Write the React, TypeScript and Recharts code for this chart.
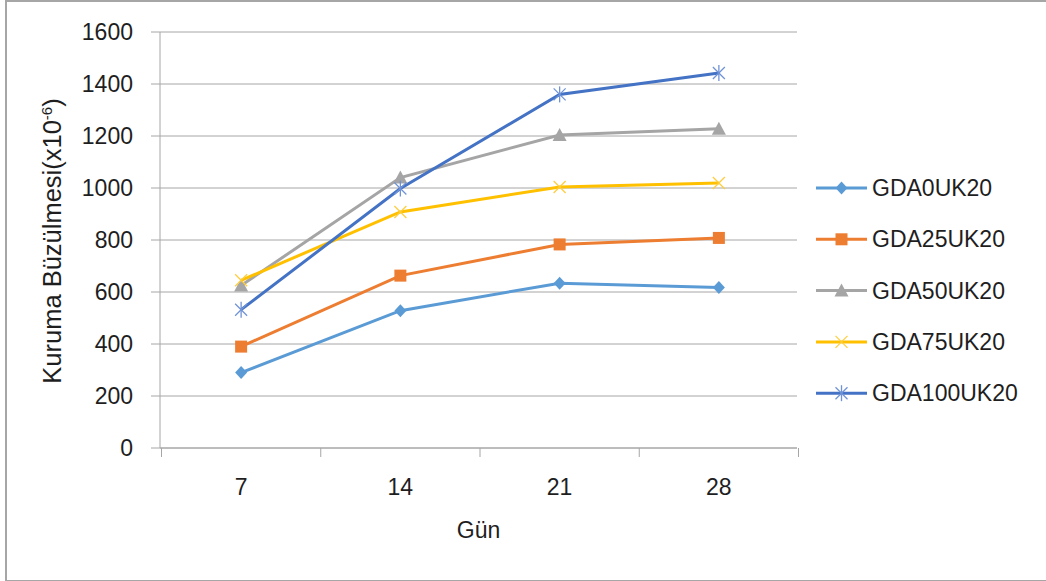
import { CartesianGrid, Line, LineChart, XAxis, YAxis } from "recharts";

const FONT = "'Liberation Sans', Arial, sans-serif";
const TEXT = "#1e1e1e";
const GRID = "#a6a6a6";

const DAYS = ["7", "14", "21", "28"];
const Y_TICKS = [0, 200, 400, 600, 800, 1000, 1200, 1400, 1600];

const GDA0UK20 = [290, 528, 634, 617];
const GDA25UK20 = [390, 663, 783, 808];
const GDA50UK20 = [625, 1040, 1204, 1228];
const GDA75UK20 = [645, 908, 1004, 1019];
const GDA100UK20 = [532, 998, 1360, 1442];

type Shape = "diamond" | "square" | "triangle" | "x" | "star";

const SERIES: { name: string; values: number[]; color: string; shape: Shape }[] = [
  { name: "GDA0UK20", values: GDA0UK20, color: "#5b9bd5", shape: "diamond" },
  { name: "GDA25UK20", values: GDA25UK20, color: "#ed7d31", shape: "square" },
  { name: "GDA50UK20", values: GDA50UK20, color: "#a5a5a5", shape: "triangle" },
  { name: "GDA75UK20", values: GDA75UK20, color: "#ffc000", shape: "x" },
  { name: "GDA100UK20", values: GDA100UK20, color: "#4472c4", shape: "star" },
];

const data = DAYS.map((day, i) => {
  const row: Record<string, string | number> = { day };
  SERIES.forEach((s) => (row[s.name] = s.values[i]));
  return row;
});

// plot box
const W = 1046;
const H = 581;
const M = { top: 32, right: 249, bottom: 0, left: 0 };
const Y_W = 160;
const X_H = 133;
const PLOT_W = W - M.right - Y_W;
const STEP = PLOT_W / DAYS.length;

function Marker({ cx, cy, shape, color }: { cx?: number; cy?: number; shape: Shape; color: string }) {
  if (cx == null || cy == null) return null;
  switch (shape) {
    case "diamond":
      return <path d={`M${cx},${cy - 6.5}L${cx + 6},${cy}L${cx},${cy + 6.5}L${cx - 6},${cy}Z`} fill={color} />;
    case "square":
      return <rect x={cx - 6} y={cy - 6} width={12} height={12} fill={color} />;
    case "triangle":
      return <path d={`M${cx},${cy - 7}L${cx + 7},${cy + 6}L${cx - 7},${cy + 6}Z`} fill={color} />;
    case "x":
      return (
        <g stroke="#ffcd3c" strokeWidth={1.3}>
          <line x1={cx - 6} y1={cy - 6} x2={cx + 6} y2={cy + 6} />
          <line x1={cx - 6} y1={cy + 6} x2={cx + 6} y2={cy - 6} />
        </g>
      );
    case "star":
      return (
        <g stroke="#6f93d6" strokeWidth={1.3}>
          <line x1={cx - 6} y1={cy - 6} x2={cx + 6} y2={cy + 6} />
          <line x1={cx - 6} y1={cy + 6} x2={cx + 6} y2={cy - 6} />
          <line x1={cx} y1={cy - 8} x2={cx} y2={cy + 8} />
        </g>
      );
  }
}

function DayTick(props: any) {
  const { x, y, payload, index } = props;
  const last = index === DAYS.length - 1;
  return (
    <g>
      <line x1={x - STEP / 2} x2={x - STEP / 2} y1={y} y2={y + 9} stroke={GRID} />
      {last && <line x1={x + STEP / 2} x2={x + STEP / 2} y1={y} y2={y + 9} stroke={GRID} />}
      <text x={x} y={y + 47} textAnchor="middle" fill={TEXT} fontSize={23} fontFamily={FONT}>
        {payload.value}
      </text>
    </g>
  );
}

function YTitle(props: any) {
  const vb = props.viewBox ?? { x: 0, y: M.top, width: Y_W, height: 416 };
  const x = vb.x + 61;
  const y = vb.y + vb.height / 2 + 1;
  return (
    <text
      x={x}
      y={y}
      transform={`rotate(-90, ${x}, ${y})`}
      textAnchor="middle"
      fill={TEXT}
      fontSize={25.5}
      fontFamily={FONT}
    >
      Kuruma Büzülmesi(x10
      <tspan dy={-9} fontSize={15}>-6</tspan>
      <tspan dy={9}>)</tspan>
    </text>
  );
}

function LegendBox() {
  return (
    <svg width={236} height={260} style={{ position: "absolute", left: 810, top: 160 }}>
      {SERIES.map((s, i) => {
        const y = 28 + i * 51.3;
        return (
          <g key={s.name}>
            <line x1={6} x2={57} y1={y} y2={y} stroke={s.color} strokeWidth={3} />
            <Marker cx={31.5} cy={y} shape={s.shape} color={s.color} />
            <text x={62} y={y + 8} fill={TEXT} fontSize={23} fontFamily={FONT}>
              {s.name}
            </text>
          </g>
        );
      })}
    </svg>
  );
}

export default function App() {
  return (
    <div style={{ position: "absolute", left: 0, top: 0, width: W, height: H, background: "#fff" }}>
      <div
        style={{
          position: "absolute",
          left: 5,
          top: 0,
          width: W - 7,
          height: 578,
          borderLeft: "2px solid #a6a6a6",
          borderTop: "2px solid #a6a6a6",
          borderBottom: "2px solid #a6a6a6",
        }}
      />
      <LineChart width={W} height={H} data={data} margin={M} style={{ position: "absolute", left: 0, top: 0 }}>
        <CartesianGrid vertical={false} stroke={GRID} />
        <XAxis
          dataKey="day"
          height={X_H}
          padding={{ left: STEP / 2 + 1.5, right: STEP / 2 - 1.5 }}
          axisLine={{ stroke: GRID }}
          tickLine={false}
          tickSize={0}
          tickMargin={0}
          tick={<DayTick />}
          interval={0}
          label={{ value: "Gün", position: "insideBottom", offset: 43, fill: TEXT, fontSize: 23, fontFamily: FONT }}
        />
        <YAxis
          width={Y_W}
          domain={[0, 1600]}
          ticks={Y_TICKS}
          interval={0}
          axisLine={{ stroke: GRID }}
          tickLine={{ stroke: GRID }}
          tickSize={9}
          tickMargin={18}
          tick={{ fill: TEXT, fontSize: 23, fontFamily: FONT }}
          label={<YTitle />}
        />
        {SERIES.map((s) => (
          <Line
            key={s.name}
            dataKey={s.name}
            stroke={s.color}
            strokeWidth={3}
            isAnimationActive={false}
            activeDot={false}
            dot={(p: any) => <Marker key={`${s.name}-${p.index}`} cx={p.cx} cy={p.cy} shape={s.shape} color={s.color} />}
          />
        ))}
      </LineChart>
      <LegendBox />
    </div>
  );
}
